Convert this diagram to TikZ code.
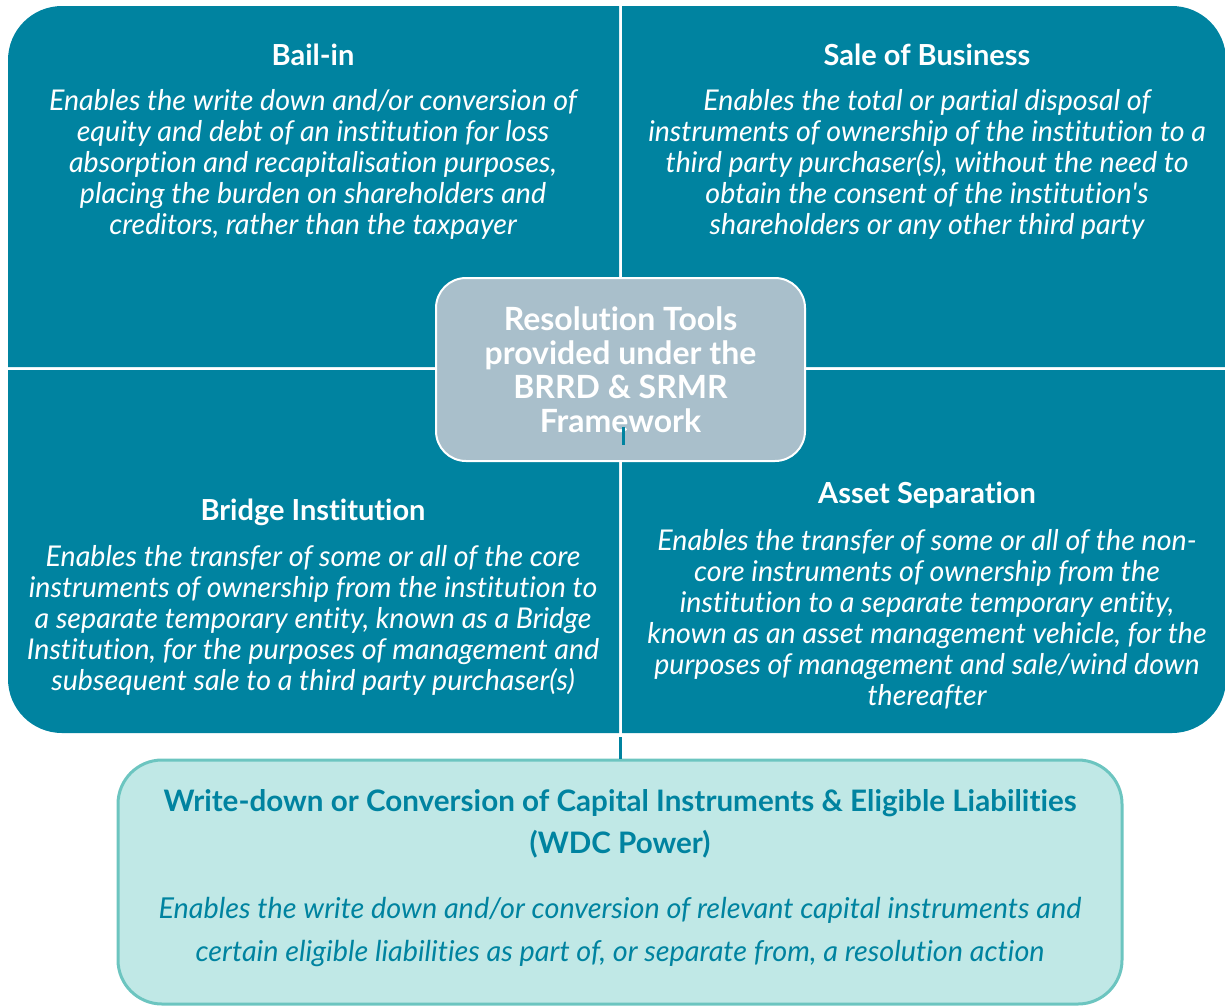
\documentclass[tikz,border=0pt]{standalone}
\usepackage{fontspec}
\setmainfont{Lato}[Ligatures={TeX,NoCommon,NoContextual},RawFeature={-liga;-clig;-dlig}]
\usetikzlibrary{positioning}
\usepackage{xcolor}
\definecolor{toolteal}{HTML}{0083A0}
\definecolor{hubgrey}{HTML}{A9BFCB}
\definecolor{wdcfill}{HTML}{C0E8E6}
\definecolor{wdcline}{HTML}{6CC5C0}

\begin{document}
\begin{tikzpicture}[x=0.5pt,y=-0.5pt,
        tooltitle/.style={text=white,font=\bfseries\fontsize{14.5}{15.5}\selectfont},
        tooltext/.style={text=white,align=center,font=\itshape\fontsize{14.3}{15.5}\selectfont},
        hubbox/.style={draw=white,line width=1pt,fill=hubgrey,rounded corners=15pt,
                minimum width=184.5pt,minimum height=91.5pt,align=center,text=white,
                font=\bfseries\fontsize{16}{17}\selectfont},
        wdcbox/.style={draw=wdcline,line width=1.5pt,fill=wdcfill,rounded corners=22pt,
                minimum width=502pt,minimum height=122pt},
        link/.style={draw=toolteal,line width=1.5pt}]
        \useasboundingbox (0,0) rectangle (1225,1007);
        % quadrante bail-in
        \fill[toolteal] (8,367) -- (8,200) [rounded corners=27pt] -- (8,6) -- (300,6)
                [sharp corners] -- (619,6) -- (619,367) -- cycle;
        % quadrante sale of business
        \fill[toolteal] (622,367) -- (622,6) -- (900,6) [rounded corners=27pt] -- (1226,6)
                -- (1226,200) [sharp corners] -- (1226,367) -- cycle;
        % quadrante bridge institution
        \fill[toolteal] (8,370) -- (619,370) -- (619,733) -- (300,733) [rounded corners=27pt]
                -- (8,733) -- (8,550) [sharp corners] -- cycle;
        % quadrante asset separation
        \fill[toolteal] (622,370) -- (1226,370) -- (1226,550) [rounded corners=27pt]
                -- (1226,733) -- (900,733) [sharp corners] -- (622,733) -- cycle;
        % textos de los cuadrantes
        \node[tooltitle] (bailin) at (313,55) {Bail-in};
        \node[tooltext] (bailintxt) at (313,164.5) {Enables the write down and/or conversion of\\
                equity and debt of an institution for loss\\
                absorption and recapitalisation purposes,\\
                placing the burden on shareholders and\\
                creditors, rather than the taxpayer};
        \node[tooltitle] (sale) at (927,55) {Sale of Business};
        \node[tooltext] (saletxt) at (927,164.5) {Enables the total or partial disposal of\\
                instruments of ownership of the institution to a\\
                third party purchaser(s), without the need to\\
                obtain the consent of the institution\textquotesingle s\\
                shareholders or any other third party};
        \node[tooltitle] (bridge) at (313,512) {Bridge Institution};
        \node[tooltext] (bridgetxt) at (313,620) {Enables the transfer of some or all of the core\\
                instruments of ownership from the institution to\\
                a separate temporary entity, known as a Bridge\\
                Institution, for the purposes of management and\\
                subsequent sale to a third party purchaser(s)};
        \node[tooltitle] (asset) at (927,495) {Asset Separation};
        \node[tooltext] (assettxt) at (927,619.5) {Enables the transfer of some or all of the non-\\
                core instruments of ownership from the\\
                institution to a separate temporary entity,\\
                known as an asset management vehicle, for the\\
                purposes of management and sale/wind down\\
                thereafter};
        % caja central
        \node[hubbox] (hub) at (620.5,369.5) {Resolution Tools\\provided under the\\BRRD \& SRMR\\Framework};
        \draw[link] (623,427) -- (623,445);
        % caja WDC
        \node[wdcbox] (wdc) at (620,882) {};
        \node[text=toolteal,align=center,font=\bfseries\fontsize{14.8}{21}\selectfont] (wdctitle) at (620,824)
                {Write-down or Conversion of Capital Instruments \& Eligible Liabilities\\(WDC Power)};
        \node[text=toolteal,align=center,font=\itshape\fontsize{14.4}{21}\selectfont] (wdctxt) at (620,932)
                {Enables the write down and/or conversion of relevant capital instruments and\\
                certain eligible liabilities as part of, or separate from, a resolution action};
        % enlace hacia la caja WDC
        \coordinate (gap) at (620,737);
        \draw[link] (gap) -- (wdc.north);
\end{tikzpicture}
\end{document}
